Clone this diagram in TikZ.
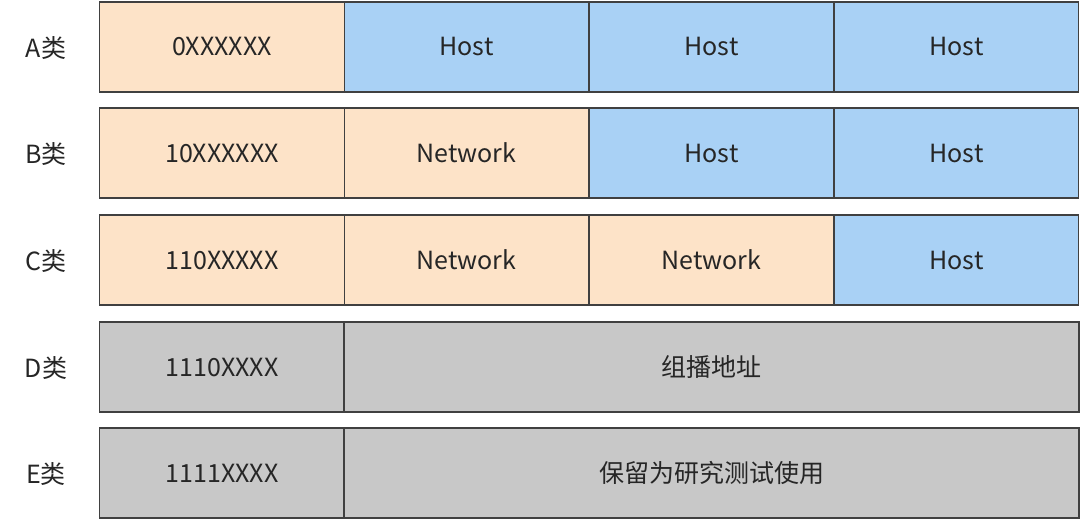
\documentclass[tikz,border=0pt]{standalone}
\usepackage{fontspec}
\setmainfont{Noto Sans CJK SC}
\definecolor{peach}{HTML}{FDE3C8}
\definecolor{skyb}{HTML}{A9D1F5}
\definecolor{graycell}{HTML}{C8C8C8}
\definecolor{edge}{HTML}{404040}
\begin{document}
\begin{tikzpicture}[x=1pt,y=-1pt,
  cell/.style={draw=edge,line width=1.2pt,minimum height=90pt,inner sep=0pt,font=\fontsize{25}{30}\selectfont,text=black!85},
  w1/.style={cell,minimum width=244.5pt},
  w3/.style={cell,minimum width=735pt},
  lab/.style={font=\fontsize{25}{30}\selectfont,text=black!85}]
\useasboundingbox (0,0) rectangle (1080,522);
% A
\node[lab] (la) at (46,48) {A类};
\node[w1,fill=peach] (a1) at (222,47) {0XXXXXX};
\node[w1,fill=skyb] (a2) at (466.5,47) {Host};
\node[w1,fill=skyb] (a3) at (711.5,47) {Host};
\node[w1,fill=skyb] (a4) at (956.5,47) {Host};
% B
\node[lab] (lb) at (46,154) {B类};
\node[w1,fill=peach] (b1) at (222,153) {10XXXXXX};
\node[w1,fill=peach] (b2) at (466.5,153) {Network};
\node[w1,fill=skyb] (b3) at (711.5,153) {Host};
\node[w1,fill=skyb] (b4) at (956.5,153) {Host};
% C
\node[lab] (lc) at (46,261) {C类};
\node[w1,fill=peach] (c1) at (222,260) {110XXXXX};
\node[w1,fill=peach] (c2) at (466.5,260) {Network};
\node[w1,fill=peach] (c3) at (711.5,260) {Network};
\node[w1,fill=skyb] (c4) at (956.5,260) {Host};
% D
\node[lab] (ld) at (46,368) {D类};
\node[w1,fill=graycell] (d1) at (222,367) {1110XXXX};
\node[w3,fill=graycell] (d2) at (711.5,367) {组播地址};
% E
\node[lab] (le) at (46,474) {E类};
\node[w1,fill=graycell] (e1) at (222,473) {1111XXXX};
\node[w3,fill=graycell] (e2) at (711.5,473) {保留为研究测试使用};
\end{tikzpicture}
\end{document}
